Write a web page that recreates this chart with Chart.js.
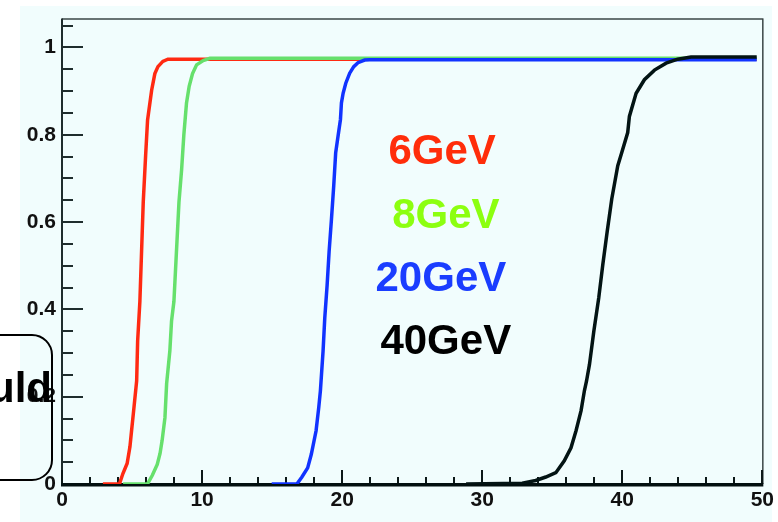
<!DOCTYPE html>
<html>
<head>
<meta charset="utf-8">
<script src="https://cdn.jsdelivr.net/npm/chart.js@4.4.1/dist/chart.umd.min.js"></script>
<style>
  html, body { margin: 0; padding: 0; background: #fff; }
  canvas { display: block; }
</style>
</head>
<body>
<canvas id="eff" width="778" height="522"></canvas>
<script>
// turn-on curves, one x/y pair of arrays per beam energy
const gev6X = [2.92, 4.1, 4.35, 4.65, 4.85, 4.97, 5.09, 5.33, 5.4, 5.56, 5.8, 5.97, 6.11, 6.4, 6.63, 6.85, 7.2, 7.56, 49.6];
const gev6Y = [0, 0, 0.024, 0.047, 0.085, 0.123, 0.16, 0.236, 0.327, 0.418, 0.645, 0.752, 0.834, 0.902, 0.94, 0.956, 0.968, 0.973, 0.973];

const gev8X = [4.36, 6.1, 6.45, 6.8, 7.0, 7.15, 7.35, 7.47, 7.7, 7.82, 7.99, 8.35, 8.54, 8.7, 8.89, 9.08, 9.32, 9.61, 10.08, 10.56, 49.6];
const gev8Y = [0, 0, 0.02, 0.045, 0.07, 0.1, 0.152, 0.23, 0.305, 0.373, 0.418, 0.645, 0.72, 0.8, 0.873, 0.911, 0.94, 0.96, 0.97, 0.975, 0.975];

const gev20X = [14.97, 16.77, 17.13, 17.54, 17.8, 18.14, 18.33, 18.45, 18.64, 18.76, 18.93, 19.07, 19.24, 19.4, 19.54, 19.71, 19.88, 19.95, 20.07, 20.26, 20.54, 20.83, 21.13, 21.61, 21.97, 49.6];
const gev20Y = [0, 0, 0.016, 0.037, 0.068, 0.122, 0.175, 0.214, 0.305, 0.38, 0.456, 0.532, 0.607, 0.683, 0.759, 0.797, 0.835, 0.873, 0.895, 0.918, 0.941, 0.956, 0.965, 0.971, 0.972, 0.972];

const gev40X = [28.85, 32.86, 33.82, 34.54, 35.26, 35.86, 36.34, 36.7, 37.06, 37.3, 37.45, 37.66, 37.97, 38.32, 38.61, 38.92, 39.25, 39.68, 39.96, 40.39, 40.51, 40.99, 41.58, 42.3, 43.13, 43.96, 44.91, 49.6];
const gev40Y = [0, 0.002, 0.008, 0.016, 0.026, 0.053, 0.083, 0.122, 0.168, 0.214, 0.236, 0.274, 0.35, 0.426, 0.502, 0.577, 0.653, 0.729, 0.759, 0.805, 0.842, 0.895, 0.926, 0.948, 0.964, 0.973, 0.978, 0.978];

const energyLabels = ['6GeV', '8GeV', '20GeV', '40GeV'];
const xTicks = [0, 10, 20, 30, 40, 50];
const yTicks = [0, 0.2, 0.4, 0.6, 0.8, 1];
const calloutText = 'uld';

const lineColors = ['#ff2a12', '#66e06c', '#1133ff', '#031414'];
const textColors = ['#ff2d0a', '#8cff10', '#1a3dff', '#000000'];
// where each energy tag sits, in axis units (centre x, baseline y)
const tagSpots = [[27.14, 0.733], [27.41, 0.586], [27.05, 0.441], [27.4, 0.297]];

const toPoints = (xs, ys) => xs.map((x, i) => ({ x: x, y: ys[i] }));

const series = [
    toPoints(gev6X, gev6Y),
    toPoints(gev8X, gev8Y),
    toPoints(gev20X, gev20Y),
    toPoints(gev40X, gev40Y),
];

const FONT = '"Liberation Sans", Arial, Helvetica, sans-serif';

// pad background, axes drawn ROOT-style with ticks inside the frame
const framePlugin = {
    id: 'frame',
    beforeDraw(chart) {
        const ctx = chart.ctx;
        ctx.save();
        ctx.fillStyle = '#ffffff';
        ctx.fillRect(0, 0, chart.width, chart.height);
        ctx.fillStyle = '#f1fdfd';
        ctx.fillRect(20, 6, 752, chart.height - 6);
        ctx.restore();
    },
    beforeDatasetsDraw(chart) {
        const { ctx, chartArea: a, scales: { x, y } } = chart;
        ctx.save();

        ctx.strokeStyle = '#3b4747';
        ctx.lineWidth = 1.5;
        ctx.beginPath();
        ctx.moveTo(a.left, a.top + 0.5);
        ctx.lineTo(a.right + 1, a.top + 0.5);
        ctx.moveTo(a.right + 0.5, a.top);
        ctx.lineTo(a.right + 0.5, a.bottom);
        ctx.stroke();

        ctx.strokeStyle = '#1f2d2d';
        ctx.lineWidth = 2;
        ctx.beginPath();
        ctx.moveTo(a.left, a.top);
        ctx.lineTo(a.left, a.bottom);
        for (let i = 0; i <= 21; i++) {
            const py = Math.round(y.getPixelForValue(i * 0.05));
            const len = i % 4 === 0 ? 21 : 11;
            ctx.moveTo(a.left, py);
            ctx.lineTo(a.left + len, py);
        }
        ctx.stroke();

        ctx.strokeStyle = '#0c1818';
        ctx.beginPath();
        for (let i = 0; i <= 25; i++) {
            const px = Math.round(x.getPixelForValue(i * 2));
            const len = i % 5 === 0 ? 14 : 7;
            ctx.moveTo(px, a.bottom);
            ctx.lineTo(px, a.bottom - len);
        }
        ctx.stroke();

        ctx.fillStyle = '#021010';
        ctx.fillRect(a.left - 1, a.bottom - 1, a.right - a.left + 2, 3.5);
        ctx.restore();
    },
    afterDatasetsDraw(chart) {
        const { ctx, scales: { x, y } } = chart;
        ctx.save();
        ctx.font = 'bold 42px ' + FONT;
        ctx.textAlign = 'center';
        ctx.textBaseline = 'alphabetic';
        energyLabels.forEach((label, i) => {
            ctx.fillStyle = textColors[i];
            ctx.fillText(label, x.getPixelForValue(tagSpots[i][0]), y.getPixelForValue(tagSpots[i][1]));
        });
        ctx.restore();
    },
    afterDraw(chart) {
        // rounded callout hanging off the left edge
        const ctx = chart.ctx;
        ctx.save();
        ctx.beginPath();
        ctx.roundRect(-30, 335, 82, 145, 20);
        ctx.lineWidth = 2;
        ctx.strokeStyle = '#000';
        ctx.stroke();
        ctx.font = 'bold 42px ' + FONT;
        ctx.textAlign = 'right';
        ctx.fillStyle = '#000';
        ctx.fillText(calloutText, 52, 402);
        ctx.restore();
    }
};

new Chart(document.getElementById('eff'), {
    type: 'scatter',
    data: {
        datasets: series.map((pts, i) => ({
            label: energyLabels[i],
            data: pts,
            showLine: true,
            borderColor: lineColors[i],
            borderWidth: 3.5,
            pointRadius: 0,
            tension: 0,
            order: 4 - i,
        }))
    },
    options: {
        responsive: false,
        devicePixelRatio: 1,
        animation: false,
        layout: { padding: { top: 15, right: 15, left: 0, bottom: 0 } },
        plugins: {
            legend: { display: false },
            tooltip: { enabled: false },
        },
        scales: {
            x: {
                type: 'linear',
                min: 0,
                max: 50,
                grid: { display: false, drawTicks: false },
                border: { display: false },
                afterBuildTicks: (s) => { s.ticks = xTicks.map(v => ({ value: v })); },
                afterFit: (s) => { s.height = 38; },
                ticks: {
                    autoSkip: false,
                    maxRotation: 0,
                    padding: 4,
                    color: '#111',
                    font: { family: FONT, size: 21, weight: 'bold' },
                    callback: (v) => String(v),
                },
            },
            y: {
                type: 'linear',
                min: 0,
                max: 1.066,
                grid: { display: false, drawTicks: false },
                border: { display: false },
                afterBuildTicks: (s) => { s.ticks = yTicks.map(v => ({ value: v })); },
                afterFit: (s) => { s.width = 62; },
                ticks: {
                    autoSkip: false,
                    padding: 6,
                    color: '#111',
                    font: { family: FONT, size: 21, weight: 'bold' },
                    callback: (v) => String(+v.toFixed(1)),
                },
            },
        },
    },
    plugins: [framePlugin],
});
</script>
</body>
</html>
